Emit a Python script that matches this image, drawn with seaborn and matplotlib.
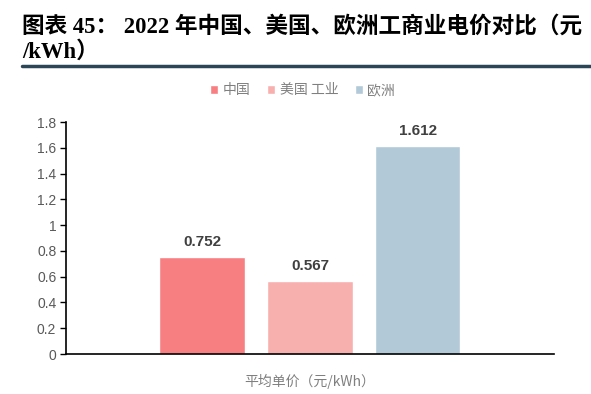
import matplotlib
matplotlib.use("Agg")
import matplotlib.pyplot as plt
from matplotlib.lines import Line2D
import seaborn as sns
import pandas as pd

# data
regions = ["中国", "美国 工业", "欧洲"]
prices = [0.752, 0.567, 1.612]
category = "平均单价（元/kWh）"
colors = ["#F77F82", "#F8B0AF", "#B2C9D8"]
yticks = [0, 0.2, 0.4, 0.6, 0.8, 1, 1.2, 1.4, 1.6, 1.8]

sns.set_theme(style="white")
plt.rcParams['font.family'] = ['Noto Sans CJK SC', 'DejaVu Sans']

df = pd.DataFrame({"cat": [category] * len(regions), "region": regions, "price": prices})

fig = plt.figure(figsize=(5.91, 3.94), dpi=100)
ax = fig.add_axes([0.1117, 0.1015, 0.8253, 0.5888])

sns.barplot(data=df, x="cat", y="price", hue="region", palette=colors,
            width=0.8, gap=0.21, saturation=1, ax=ax)

ax.set_xlim(-0.6025, 0.6025)
ax.set_ylim(0, 1.8)
ax.set_yticks(yticks)
ax.set_yticklabels([str(t) for t in yticks])
ax.set_xlabel("")
ax.set_ylabel("")

for c in ax.containers:
    ax.bar_label(c, fmt="%.3f", padding=6, fontsize=11, fontweight="bold",
                 color="#404040", family=["Liberation Sans", "DejaVu Sans"])

for s in ["top", "right"]:
    ax.spines[s].set_visible(False)
for s in ["left", "bottom"]:
    ax.spines[s].set_color("black")
    ax.spines[s].set_linewidth(1.2)

ax.tick_params(axis="y", which="both", left=True, length=4, width=1, color="black",
               labelsize=10, labelcolor="#595959", pad=3)
ax.tick_params(axis="x", bottom=False, labelsize=10, labelcolor="#7F7F7F", pad=8)
for lbl in ax.get_yticklabels():
    lbl.set_family(["Liberation Sans", "DejaVu Sans"])

leg = ax.legend(loc="center", bbox_to_anchor=(0.485, 1.138), ncol=3, frameon=False,
                handlelength=0.6, handleheight=0.6, handletextpad=0.3,
                columnspacing=1.2, fontsize=10)
for t in leg.get_texts():
    t.set_color("#7F7F7F")

# title
fig.text(0.037, 0.96, "图表 45： 2022 年中国、美国、欧洲工商业电价对比（元\n/kWh）",
         ha="left", va="top", fontsize=16.3, fontweight="bold", color="black",
         family=["Liberation Serif", "Noto Sans CJK SC"], linespacing=1.2)
fig.add_artist(Line2D([0.037, 1.0], [1 - 66 / 394, 1 - 66 / 394],
                      transform=fig.transFigure, color="#2B4656", linewidth=2.5))

fig.savefig("out.png", dpi=100)
